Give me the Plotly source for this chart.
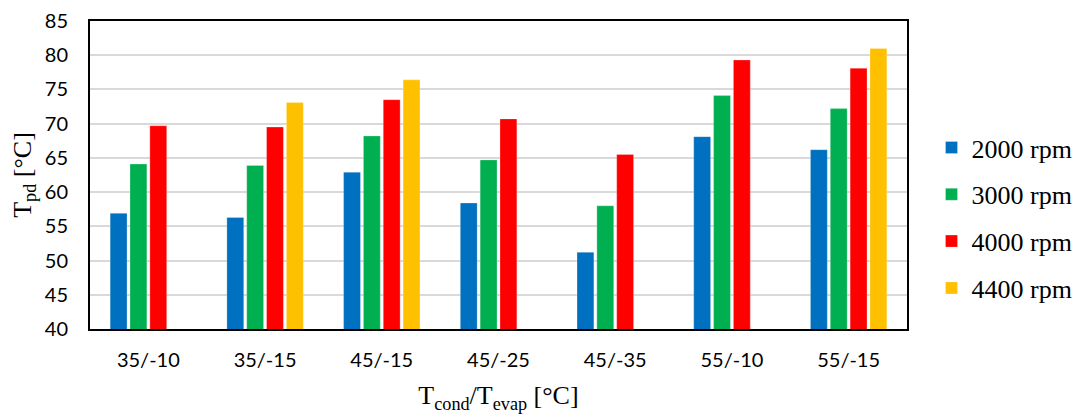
import plotly.graph_objects as go

categories = ["35/-10", "35/-15", "45/-15", "45/-25", "45/-35", "55/-10", "55/-15"]
rpm2000 = [56.9, 56.3, 62.9, 58.4, 51.2, 68.1, 66.2]
rpm3000 = [64.1, 63.9, 68.2, 64.7, 58.0, 74.1, 72.2]
rpm4000 = [69.7, 69.5, 73.5, 70.7, 65.5, 79.3, 78.1]
rpm4400 = [None, 73.1, 76.4, None, None, None, 81.0]

series = [
    ("2000 rpm", rpm2000, "#0070C0"),
    ("3000 rpm", rpm3000, "#00B050"),
    ("4000 rpm", rpm4000, "#FF0000"),
    ("4400 rpm", rpm4400, "#FFC000"),
]

fig = go.Figure()
for i, (name, vals, col) in enumerate(series):
    fig.add_trace(go.Bar(
        x=categories, y=vals, name=name, marker_color=col,
        marker_line=dict(color="rgba(255,255,255,0.5)", width=0.5),
        legendgroup=str(i),
    ))

fig.update_layout(
    width=1089, height=416,
    margin=dict(l=90, r=174, t=21, b=87),
    paper_bgcolor="white", plot_bgcolor="white",
    barmode="group", bargap=0.32, bargroupgap=0.15,
    showlegend=True,
    legend=dict(
        x=1.03, y=0.36, xanchor="left", yanchor="middle",
        font=dict(family="Liberation Serif", size=26, color="black"),
        tracegroupgap=10, itemwidth=30,
    ),
    xaxis=dict(
        automargin=False,
        showline=True, linecolor="black", linewidth=2, mirror=True,
        tickfont=dict(family="Lato", size=20, color="black"),
        ticks="", ticklabelstandoff=12,
        title=dict(text="T<sub>cond</sub>/T<sub>evap</sub> [°C]",
                   font=dict(family="Liberation Serif", size=26, color="black"),
                   standoff=16),
    ),
    yaxis=dict(
        automargin=False,
        range=[40, 85], dtick=5,
        showline=True, linecolor="black", linewidth=2, mirror=True,
        showgrid=True, gridcolor="#D9D9D9", gridwidth=2,
        tickfont=dict(family="Lato", size=20, color="black"),
        ticks="", ticklabelstandoff=16,
        title=dict(text="T<sub>pd</sub> [°C]",
                   font=dict(family="Liberation Serif", size=26, color="black"),
                   standoff=6),
    ),
)

fig.write_html("out.html")
